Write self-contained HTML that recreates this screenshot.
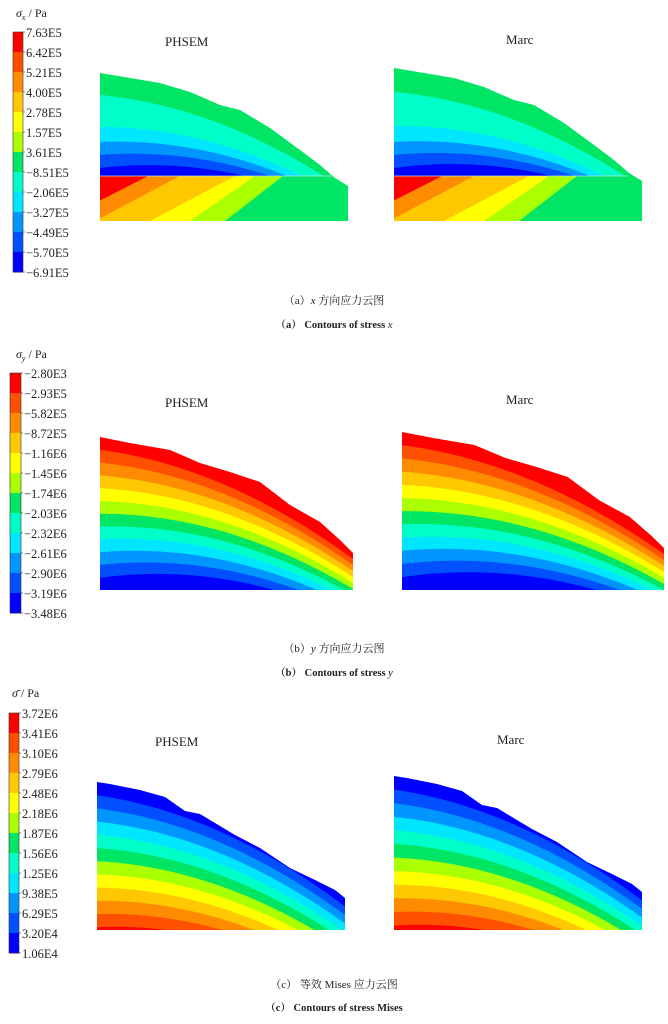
<!DOCTYPE html>
<html><head><meta charset="utf-8">
<style>
html,body{margin:0;padding:0;background:#fff;}
body{width:668px;height:1024px;overflow:hidden;}
svg{display:block;}
text{font-family:"Liberation Serif","Noto Serif CJK SC",serif;fill:#222;}
</style></head>
<body>
<svg id="s" width="668" height="1024" viewBox="0 0 668 1024" xmlns="http://www.w3.org/2000/svg">
<defs></defs>
<g id="legends"></g>
<g id="plots"></g>
<text x="165" y="46" font-size="13">PHSEM</text>
<text x="506" y="44" font-size="13">Marc</text>
<text x="165" y="407" font-size="13">PHSEM</text>
<text x="506" y="404" font-size="13">Marc</text>
<text x="155" y="746" font-size="13">PHSEM</text>
<text x="497" y="744" font-size="13">Marc</text>

<text x="334" y="304" font-size="11" text-anchor="middle">（a）<tspan font-style="italic">x</tspan> 方向应力云图</text>
<text x="334" y="328" font-size="10.5" text-anchor="middle" font-weight="bold">（a） Contours of stress <tspan font-style="italic" font-weight="normal">x</tspan></text>
<text x="334" y="652" font-size="11" text-anchor="middle">（b）<tspan font-style="italic">y</tspan> 方向应力云图</text>
<text x="334" y="676" font-size="10.5" text-anchor="middle" font-weight="bold">（b） Contours of stress <tspan font-style="italic" font-weight="normal">y</tspan></text>
<text x="334" y="988" font-size="11" text-anchor="middle">（c） 等效 Mises 应力云图</text>
<text x="334" y="1011" font-size="10.5" text-anchor="middle" font-weight="bold">（c） Contours of stress Mises</text>

<text x="16" y="17" font-size="12"><tspan font-style="italic">σ</tspan><tspan font-size="8" dy="3" font-style="italic">x</tspan><tspan dy="-3"> / Pa</tspan></text>
<text x="16" y="358" font-size="12"><tspan font-style="italic">σ</tspan><tspan font-size="8" dy="3" font-style="italic">y</tspan><tspan dy="-3"> / Pa</tspan></text>
<text x="12" y="697" font-size="12"><tspan font-style="italic">σ̄</tspan> / Pa</text>
</svg>
<script>
var NS="http://www.w3.org/2000/svg";
var C=["#ff0000","#ff5000","#ff8c00","#ffc800","#ffff00","#aaff00","#00e664","#00ffc8","#00e6ff","#0096ff","#0050ff","#0000ff"];
var svg=document.getElementById('s'),defs=svg.querySelector('defs'),P=document.getElementById('plots'),L=document.getElementById('legends');
function el(n,a,p){var e=document.createElementNS(NS,n);for(var k in a)e.setAttribute(k,a[k]);(p||P).appendChild(e);return e;}
function legend(x,y,w,labels){
 var h=240/12;
 for(var i=0;i<12;i++){el('rect',{x:x,y:y+i*h,width:w,height:h+0.5,fill:C[i]},L);}
 el('rect',{x:x,y:y,width:w,height:240,fill:'none',stroke:'#333','stroke-width':0.6},L);
 for(var i=0;i<13;i++){el('line',{x1:x+w,x2:x+w+2,y1:y+i*h,y2:y+i*h,stroke:'#333','stroke-width':0.6},L);
  var t=el('text',{x:x+w+3,y:y+i*h+5,'font-size':12.5},L);t.textContent=labels[i];}
}
legend(13,32,10,["7.63E5","6.42E5","5.21E5","4.00E5","2.78E5","1.57E5","3.61E5","−8.51E5","−2.06E5","−3.27E5","−4.49E5","−5.70E5","−6.91E5"]);
legend(10,373,11,["−2.80E3","−2.93E5","−5.82E5","−8.72E5","−1.16E6","−1.45E6","−1.74E6","−2.03E6","−2.32E6","−2.61E6","−2.90E6","−3.19E6","−3.48E6"]);
legend(9,713,10,["3.72E6","3.41E6","3.10E6","2.79E6","2.48E6","2.18E6","1.87E6","1.56E6","1.25E6","9.38E5","6.29E5","3.20E4","1.06E4"]);

var cid=0;
function map(prof,dx,dy,sx){var x0=prof[0][0];return prof.map(function(p){return [x0+dx+(p[0]-x0)*(sx||1),p[1]+dy];});}
function shapePts(prof,bottom){var s=prof.map(function(p){return p.join(',')});var x0=prof[0][0],x1=prof[prof.length-1][0];s.push(x1+','+bottom);s.push(x0+','+bottom);return s.join(' ');}
function panel(prof,bottom,cols,tL,tR,clipY0,clipY1,offs){
 var x0=prof[0][0],x1=prof[prof.length-1][0],yL=prof[0][1],yR=prof[prof.length-1][1];
 var id='c'+(cid++);var cp=el('clipPath',{id:id},defs);
 el('polygon',{points:shapePts(prof,bottom)},cp);
 var g;
 if(clipY0!=null){var id2='c'+(cid++);var cp2=el('clipPath',{id:id2},defs);el('rect',{x:0,y:clipY0,width:668,height:clipY1-clipY0},cp2);
   var g0=el('g',{'clip-path':'url(#'+id2+')'});g=el('g',{'clip-path':'url(#'+id+')'},g0);}
 else g=el('g',{'clip-path':'url(#'+id+')'});
 el('rect',{x:x0-5,y:yL-20,width:x1-x0+10,height:bottom-yL+30,fill:cols[0]},g);
 for(var k=1;k<cols.length;k++){
  var pts=[];
  for(var x=x0-3;x<=x1+6;x+=3){var f=Math.min(1,Math.max(0,(x-x0)/(x1-x0)));
   var ys=yL+(yR-yL)*(0.35*f+0.65*f*f);
   var off;
   if(offs){off=offs[k-1]*(1+(tR/tL-1)*f);} else {off=k*(tL+(tR-tL)*f);}
   pts.push(x+','+(ys+off));}
  pts.push((x1+6)+','+(bottom+5));pts.push((x0-5)+','+(bottom+5));
  el('polygon',{points:pts.join(' '),fill:cols[k]},g);
 }
 return g;
}
function lowerA(dx,prof){
 var top=176,bot=221;
 var id='c'+(cid++);var cp=el('clipPath',{id:id},defs);
 el('polygon',{points:shapePts(prof,bot)},cp);
 var id2='c'+(cid++);var cp2=el('clipPath',{id:id2},defs);el('rect',{x:0,y:top,width:668,height:bot-top},cp2);
 var g0=el('g',{'clip-path':'url(#'+id2+')'});
 var g=el('g',{'clip-path':'url(#'+id+')'},g0);
 el('rect',{x:90+dx,y:top,width:300,height:50,fill:'#00e664'},g);
 var bt=[148,180,235,255,283,315],bb=[60,95,150,190,225,268];
 for(var i=5;i>=0;i--){
  el('polygon',{points:[(80+dx)+','+top,(bt[i]+dx)+','+top,(bb[i]+dx)+','+bot,(80+dx)+','+bot].join(' '),fill:C[i+1]},g);
 }
 el('polygon',{points:[(80+dx)+','+top,(148+dx)+','+top,(60+dx)+','+bot].join(' '),fill:C[0]},g);
}
// (a)
var pa=[[100,73],[130,78],[160,83],[190,92],[220,105],[240,110],[270,128],[300,150],[320,165],[335,178],[348,186]];
var aC=["#00e664","#00ffc8","#00e6ff","#0096ff","#0050ff","#0000ff"];
var aOff=[22,54,69,82,95];
panel(pa,221,aC,18,5,0,176,aOff);
lowerA(0,pa);
var pa2=map(pa,294,-5);
panel(pa2,221,aC,19,5,0,176,[24,58,74,87,100]);
lowerA(294,pa2);
el('line',{x1:100,x2:335,y1:176,y2:176,stroke:'#b8e6e0','stroke-width':0.8});
el('line',{x1:394,x2:628,y1:176,y2:176,stroke:'#b8e6e0','stroke-width':0.8});
// (b)
var pb=[[100,437],[130,443],[170,450],[200,463],[230,472],[260,482],[290,505],[320,522],[340,540],[353,553]];
panel(pb,590,C,12.8,6);
var pb2=map(pb,302,-5,262/253);
panel(pb2,590,C,13.2,6);
// (c)
var pc=[[97,782],[110,784],[140,790],[165,797],[185,811],[200,814],[235,835],[260,848],[290,868],[315,880],[335,890],[345,898]];
var cC=["#0000ff","#0050ff","#0096ff","#00e6ff","#00ffc8","#00e664","#aaff00","#ffff00","#ffc800","#ff8c00","#ff5000","#ff0000"];
panel(pc,930,cC,13.2,8.5);
var pc2=map(pc,297,-6);
panel(pc2,930,cC,13.6,8.5);
</script>
</body></html>
